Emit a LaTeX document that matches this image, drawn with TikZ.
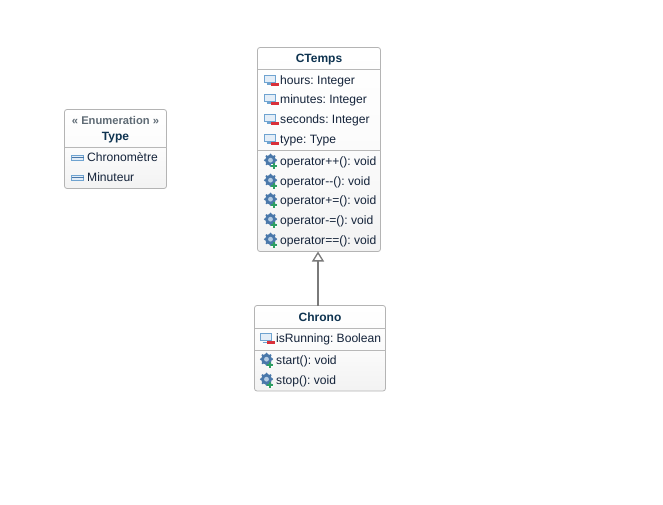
\documentclass[tikz,border=0pt]{standalone}
\usepackage{fontspec}
\setmainfont{Liberation Sans}
\usetikzlibrary{arrows.meta}
\definecolor{boxline}{HTML}{B4B4B4}
\definecolor{sepline}{HTML}{B8B8B8}
\definecolor{rowtext}{HTML}{14233A}
\definecolor{titletext}{HTML}{0E3350}
\definecolor{stereotext}{HTML}{5F6B75}
\definecolor{arrowline}{HTML}{7A7A7A}
\definecolor{iconblue}{HTML}{6FA3D0}
\definecolor{iconfill}{HTML}{E3EDF7}
\definecolor{iconred}{HTML}{D9303A}
\definecolor{icongreen}{HTML}{2E9E62}
\definecolor{geardark}{HTML}{4A78AA}
\definecolor{gearlight}{HTML}{B5CCE3}
\tikzset{
  x=1pt,y=-1pt,
  classbox/.style={draw=boxline,line width=0.8pt,rounded corners=2.5pt,top color=white,bottom color=white!95!black,middle color=white!98.5!black,anchor=north west,inner sep=0pt,outer sep=0pt},
  sepstyle/.style={draw=sepline,line width=0.8pt},
  rowlabel/.style={anchor=base west,inner sep=0pt,text=rowtext,font=\fontsize{12.1}{14}\selectfont\frenchspacing},
  classtitle/.style={anchor=base,inner sep=0pt,text=titletext,font=\fontsize{12}{14}\selectfont\bfseries},
  stereolabel/.style={anchor=base,inner sep=0pt,text=stereotext,font=\fontsize{11.2}{13}\selectfont\bfseries},
  inherit/.style={draw=arrowline,line width=2pt,-{Triangle[open,length=10pt,width=12pt,line width=1.3pt,fill=white]}},
  attricon/.pic={
    \draw[iconblue,fill=iconfill,line width=1.5pt] (-5.8,-4.5) rectangle (5,2.4);
    \draw[iconblue,line width=1.2pt] (-4,4.1) -- (1,4.1);
    \fill[iconred] (0.8,3.4) rectangle (8.2,6);
  },
  enumicon/.pic={
    \draw[iconblue,fill=iconfill,line width=1.2pt] (-6,-1.6) rectangle (6,3.4);
    \draw[geardark,line width=1pt] (-6,0.9) -- (6,0.9);
  },
  opicon/.pic={
    \fill[geardark] (0,-0.8) circle[radius=5.6];
    \foreach \a in {0,45,...,315}{\fill[geardark] (0,-0.8) ++(\a:5.6) circle[radius=1.1];}
    \fill[gearlight] (0,-0.8) circle[radius=2.4];
    \fill[white] (0.2,3.5) rectangle (6.8,6.5);
    \fill[icongreen] (0.7,4) rectangle (6.3,6);
    \fill[icongreen] (2.5,2.2) rectangle (4.5,7.8);
  },
}
\newcommand{\attrrow}[4]{\pic at (#2,#3) {attricon}; \node[rowlabel] (#1) at (#2+9.5,#3+4.6) {#4};}
\newcommand{\oprow}[4]{\pic at (#2,#3) {opicon}; \node[rowlabel] (#1) at (#2+9.5,#3+4.6) {#4};}
\newcommand{\enumrow}[4]{\pic at (#2,#3) {enumicon}; \node[rowlabel] (#1) at (#2+9.5,#3+4.6) {#4};}
\newcommand{\sepat}[3]{\coordinate (#2y) at (0,#3); \draw[sepstyle] (#1.west |- #2y) -- (#1.east |- #2y);}
\begin{document}
\begin{tikzpicture}
\useasboundingbox (0,0) rectangle (663,505);
% CTemps
\node[classbox,minimum width=123pt,minimum height=204pt] (ctemps) at (257.5,47.5) {};
\node[classtitle] (ctempstitle) at (319,62.7) {CTemps};
\sepat{ctemps}{sa}{69.5}
\sepat{ctemps}{sb}{150.5}
\attrrow{hours}{270.5}{80}{hours: Integer}
\attrrow{minutes}{270.5}{99}{minutes: Integer}
\attrrow{seconds}{270.5}{119}{seconds: Integer}
\attrrow{typeattr}{270.5}{139}{type: Type}
\oprow{opa}{270.5}{161}{operator++(): void}
\oprow{opb}{270.5}{181}{operator-{}-(): void}
\oprow{opc}{270.5}{200}{operator+=(): void}
\oprow{opd}{270.5}{220}{operator-=(): void}
\oprow{ope}{270.5}{240}{operator==(): void}
% Chrono
\node[classbox,minimum width=131pt,minimum height=85.5pt] (chrono) at (254.5,305.5) {};
\node[classtitle] (chronotitle) at (320,321) {Chrono};
\sepat{chrono}{sc}{328.5}
\sepat{chrono}{sd}{350.5}
\attrrow{running}{266.5}{338}{isRunning: Boolean}
\oprow{start}{266.5}{360}{start(): void}
\oprow{stop}{266.5}{380}{stop(): void}
% Type
\node[classbox,minimum width=102pt,minimum height=79pt] (type) at (64.5,109.5) {};
\node[stereolabel] (stereo) at (115.5,124.7) {« Enumeration »};
\node[classtitle] (typetitle) at (115.5,140.5) {Type};
\sepat{type}{se}{147.5}
\enumrow{chronometre}{77.5}{157}{Chronomètre}
\enumrow{minuteur}{77.5}{177}{Minuteur}
% Inheritance
\draw[inherit] ([xshift=-2pt]chrono.north) -- ([xshift=-1pt]ctemps.south);
\end{tikzpicture}
\end{document}
